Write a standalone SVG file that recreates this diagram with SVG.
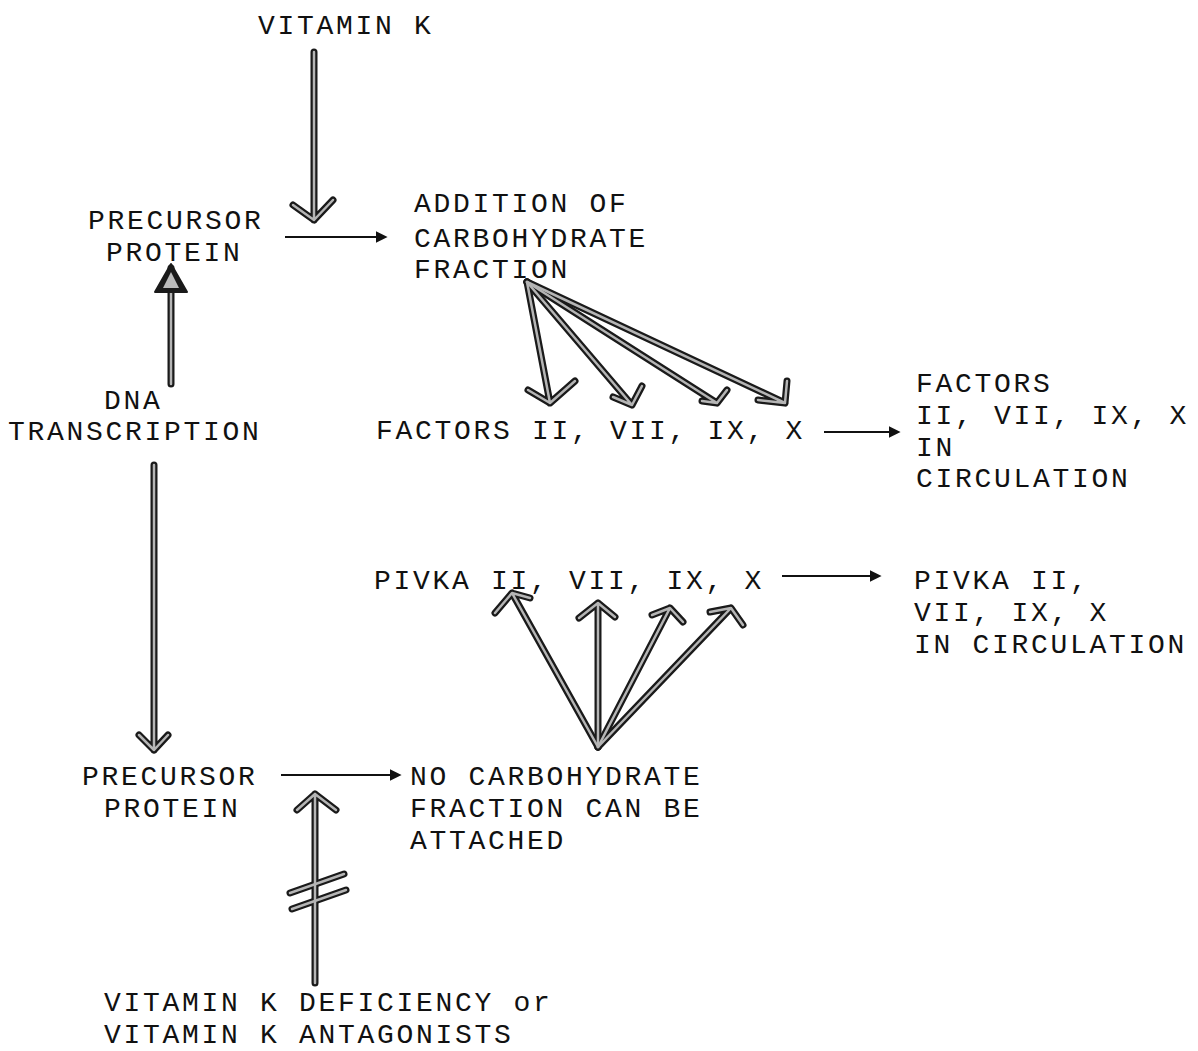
<svg xmlns="http://www.w3.org/2000/svg" width="1198" height="1051" viewBox="0 0 1198 1051">
<style>
text{font-family:"Liberation Mono","Courier New",monospace;font-size:28px;fill:#111;letter-spacing:2.7px}
.o{fill:none;stroke:#1a1a1a;stroke-width:7;stroke-linecap:round;stroke-linejoin:round}
.i{fill:none;stroke:#b5b5b5;stroke-width:2.5;stroke-linecap:round;stroke-linejoin:round}
.t{fill:none;stroke:#111;stroke-width:2}
</style>
<defs>
<marker id="tri" viewBox="0 0 10 10" refX="2" refY="5" markerWidth="12" markerHeight="12" markerUnits="userSpaceOnUse" orient="auto">
<path d="M0,0 L10,5 L0,10 Z" fill="#111"/>
</marker>
</defs>
<rect width="1198" height="1051" fill="#fff"/>
<g id="vitk"><text x="258" y="34">VITAMIN K</text></g>
<g id="precursor1"><text x="88" y="229">PRECURSOR</text><text x="106" y="261">PROTEIN</text></g>
<g id="addition"><text x="414" y="212">ADDITION OF</text><text x="414" y="247">CARBOHYDRATE</text><text x="414" y="278">FRACTION</text></g>
<g id="dna"><text x="104" y="409">DNA</text><text x="8" y="440">TRANSCRIPTION</text></g>
<g id="factors"><text x="376" y="439">FACTORS II, VII, IX, X</text></g>
<g id="factorscirc"><text x="916" y="392">FACTORS</text><text x="916" y="424">II, VII, IX, X</text><text x="916" y="456">IN</text><text x="916" y="487">CIRCULATION</text></g>
<g id="pivka"><text x="374" y="589">PIVKA II, VII, IX, X</text></g>
<g id="pivkacirc"><text x="914" y="589">PIVKA II,</text><text x="914" y="621">VII, IX, X</text><text x="914" y="653">IN CIRCULATION</text></g>
<g id="precursor2"><text x="82" y="785">PRECURSOR</text><text x="104" y="817">PROTEIN</text></g>
<g id="nocarb"><text x="410" y="785">NO CARBOHYDRATE</text><text x="410" y="817">FRACTION CAN BE</text><text x="410" y="849">ATTACHED</text></g>
<g id="deficiency"><text x="104" y="1011">VITAMIN K DEFICIENCY or</text><text x="104" y="1043">VITAMIN K ANTAGONISTS</text></g>
<g id="connectors">
<g class="o">
<path d="M314,52 V220 M293,205 L314,220 L333,200"/>
<path d="M171,384 V268"/>
<path d="M154,465 V750 M139,735 L154,750 L168,735"/>
<path d="M315,983 V794 M297,810 L315,794 L336,810"/>
<path d="M290,893 L344,874 M292,909 L346,890"/>
<path d="M527,282 L550,403 M528,390 L550,403 L575,381"/>
<path d="M527,282 L632,405 M613,397 L632,405 L642,386"/>
<path d="M527,282 L717,403 M702,401 L717,403 L727,390"/>
<path d="M527,282 L785,403 M758,400 L785,403 L787,381"/>
<path d="M598,747 L512,593 M495,613 L512,593 L530,598"/>
<path d="M598,747 L598,603 M579,618 L598,603 L615,617"/>
<path d="M598,747 L670,608 M652,615 L670,608 L683,622"/>
<path d="M598,747 L731,608 M710,612 L731,608 L743,625"/>
</g>
<g class="i">
<path d="M314,52 V220 M293,205 L314,220 L333,200"/>
<path d="M171,384 V268"/>
<path d="M154,465 V750 M139,735 L154,750 L168,735"/>
<path d="M315,983 V794 M297,810 L315,794 L336,810"/>
<path d="M290,893 L344,874 M292,909 L346,890"/>
<path d="M527,282 L550,403 M528,390 L550,403 L575,381"/>
<path d="M527,282 L632,405 M613,397 L632,405 L642,386"/>
<path d="M527,282 L717,403 M702,401 L717,403 L727,390"/>
<path d="M527,282 L785,403 M758,400 L785,403 L787,381"/>
<path d="M598,747 L512,593 M495,613 L512,593 L530,598"/>
<path d="M598,747 L598,603 M579,618 L598,603 L615,617"/>
<path d="M598,747 L670,608 M652,615 L670,608 L683,622"/>
<path d="M598,747 L731,608 M710,612 L731,608 L743,625"/>
</g>
<path d="M171,264 L155,292 L187,292 Z" fill="#1a1a1a" stroke="#1a1a1a" stroke-width="2" stroke-linejoin="round"/>
<path d="M171,272 L163,288 L179,288 Z" fill="#bbb"/>
<path class="t" d="M285,237 H378" marker-end="url(#tri)"/>
<path class="t" d="M824,432 H891" marker-end="url(#tri)"/>
<path class="t" d="M782,576 H872" marker-end="url(#tri)"/>
<path class="t" d="M281,775 H392" marker-end="url(#tri)"/>
</g>
</svg>
